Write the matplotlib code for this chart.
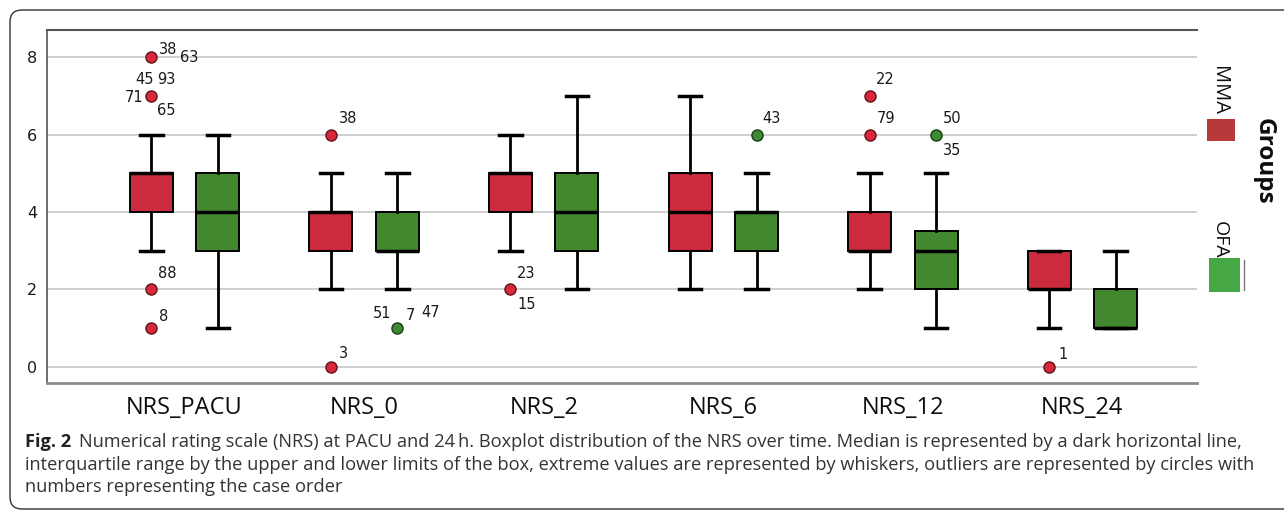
import matplotlib
matplotlib.use("Agg")
import matplotlib.pyplot as plt
from matplotlib.patches import FancyBboxPatch, Rectangle

categories = ['NRS_PACU', 'NRS_0', 'NRS_2', 'NRS_6', 'NRS_12', 'NRS_24']

# box statistics (MMA = red, OFA = green)
mma_whislo = [3, 2, 3, 2, 2, 1]
mma_q1 = [4, 3, 4, 3, 3, 2]
mma_med = [5, 4, 5, 4, 3, 2]
mma_q3 = [5, 4, 5, 5, 4, 3]
mma_whishi = [6, 5, 6, 7, 5, 3]

ofa_whislo = [1, 2, 2, 2, 1, 1]
ofa_q1 = [3, 3, 3, 3, 2, 1]
ofa_med = [4, 3, 4, 4, 3, 1]
ofa_q3 = [5, 4, 5, 4, 3.5, 2]
ofa_whishi = [6, 5, 7, 5, 5, 3]

# outliers: category index, group, value, case numbers
out_cat = [0, 0, 0, 0, 1, 1, 1, 2, 3, 4, 4, 4, 5]
out_grp = ['MMA', 'MMA', 'MMA', 'MMA', 'MMA', 'MMA', 'OFA', 'MMA', 'OFA', 'MMA', 'MMA', 'OFA', 'MMA']
out_val = [8, 7, 2, 1, 6, 0, 1, 2, 6, 7, 6, 6, 0]
out_ids = [['38', '63'], ['45', '93', '71', '65'], ['88'], ['8'], ['38'], ['3'],
           ['51', '7', '47'], ['23', '15'], ['43'], ['22'], ['79'], ['50', '35'], ['1']]

# where each case number sits around its circle (pixels)
id_offsets = [[(17, 8), (38, 0)], [(-7, 16), (15, 16), (-17, -2), (15, -15)], [(16, 16)], [(12, 12)],
              [(17, 16)], [(13, 13)], [(-15, 15), (13, 13), (33, 16)], [(16, 16), (16, -15)],
              [(15, 16)], [(16, 16)], [(16, 16)], [(16, 16), (16, -16)], [(14, 12)]]

caption_lines = [
    'Numerical rating scale (NRS) at PACU and 24\u2009h. Boxplot distribution of the NRS over time. '
    'Median is represented by a dark horizontal line,',
    'interquartile range by the upper and lower limits of the box, extreme values are represented by '
    'whiskers, outliers are represented by circles with',
    'numbers representing the case order',
]

RED = '#cc2a3d'
GREEN = '#43872f'
colors = {'MMA': RED, 'OFA': GREEN}
pt_colors = {'MMA': ('#d9283e', '#5e1515'), 'OFA': ('#3d8c33', '#1c3a15')}
offset = 0.185
W, H = 1284, 513
cap_size = 13.15

fig = plt.figure(figsize=(W / 100, H / 100), dpi=100)
ax = fig.add_axes([47 / W, (H - 383) / H, (1197 - 47) / W, (383 - 30) / H], zorder=2)
ax.patch.set_alpha(0)


def make_stats(lo, q1, med, q3, hi):
    return [dict(whislo=a, q1=b, med=c, q3=d, whishi=e, fliers=[]) for a, b, c, d, e in zip(lo, q1, med, q3, hi)]


groups = {
    'MMA': make_stats(mma_whislo, mma_q1, mma_med, mma_q3, mma_whishi),
    'OFA': make_stats(ofa_whislo, ofa_q1, ofa_med, ofa_q3, ofa_whishi),
}
shift = {'MMA': -offset, 'OFA': offset}

for name, stats in groups.items():
    pos = [i + shift[name] for i in range(len(categories))]
    ax.bxp(stats, positions=pos, widths=0.24, capwidths=0.125, patch_artist=True, showfliers=False,
           boxprops=dict(facecolor=colors[name], edgecolor='black', linewidth=1.4),
           medianprops=dict(color='black', linewidth=2.5),
           whiskerprops=dict(color='black', linewidth=2),
           capprops=dict(color='black', linewidth=2.5),
           manage_ticks=False, zorder=3)

for c, g, v, ids, offs in zip(out_cat, out_grp, out_val, out_ids, id_offsets):
    x = c + shift[g]
    face, edge = pt_colors[g]
    ax.plot(x, v, 'o', ms=8, mfc=face, mec=edge, mew=1, zorder=4)
    for lab, (dx, dy) in zip(ids, offs):
        ax.annotate(lab, xy=(x, v), xytext=(dx, dy), textcoords='offset pixels',
                    ha='center', va='center', fontsize=10.5, color='#1a1a1a', zorder=5)

ax.set_xlim(-0.766, 5.638)
ax.set_ylim(-0.413, 8.697)
ax.set_yticks([0, 2, 4, 6, 8])
ax.set_xticks(range(len(categories)))
ax.set_xticklabels(categories, fontfamily='Open Sans', fontsize=17, color='#0d0d0d')
ax.tick_params(axis='x', length=0, pad=9)
ax.tick_params(axis='y', length=0, pad=7, labelsize=11.5, labelcolor='#1a1a1a')
ax.yaxis.grid(True, color='#c8c8c8', linewidth=1.2)
ax.set_axisbelow(True)
ax.spines['right'].set_visible(False)
ax.spines['top'].set_color('#555555')
ax.spines['top'].set_linewidth(1.5)
ax.spines['bottom'].set_color('#8c8c8c')
ax.spines['bottom'].set_linewidth(2)
ax.spines['left'].set_color('#555555')
ax.spines['left'].set_linewidth(1.2)

# overlay in pixel coordinates for the frame, legend and caption
bg = fig.add_axes([0, 0, 1, 1], zorder=1)
bg.set_xlim(0, W)
bg.set_ylim(H, 0)
bg.axis('off')
bg.add_patch(FancyBboxPatch((10, 10), W + 40, 499, boxstyle='round,pad=0,rounding_size=12',
                            facecolor='none', edgecolor='#333333', linewidth=1))

bg.text(1219, 91, 'MMA', rotation=-90, ha='center', va='center', fontsize=14.5,
        fontfamily='Open Sans', color='#0d0d0d')
bg.add_patch(Rectangle((1207, 119), 28, 22, facecolor='#b8393a', edgecolor='none'))
bg.text(1220, 240, 'OFA', rotation=-90, ha='center', va='center', fontsize=14,
        fontfamily='Open Sans', color='#0d0d0d')
bg.add_patch(Rectangle((1209, 258), 31, 34, facecolor='#45a845', edgecolor='none'))
bg.plot([1244, 1244], [260, 290], color='#777777', lw=1)
bg.text(1264, 161, 'Groups', rotation=-90, ha='center', va='center', fontsize=17.5,
        fontweight='bold', fontfamily='Open Sans', color='#0d0d0d')

fig_lab = bg.text(25, 442, 'Fig. 2', ha='left', va='center', fontsize=cap_size, fontweight='bold',
                  fontfamily='Open Sans', color='#222222')
bg.annotate(caption_lines[0], xy=(1, 0.5), xycoords=fig_lab, xytext=(8, 0), textcoords='offset pixels',
            ha='left', va='center', fontsize=cap_size, fontfamily='Open Sans', color='#333333')
bg.text(25, 465, caption_lines[1], ha='left', va='center', fontsize=cap_size, fontfamily='Open Sans',
        color='#333333')
bg.text(25, 487, caption_lines[2], ha='left', va='center', fontsize=cap_size, fontfamily='Open Sans',
        color='#333333')

fig.savefig('out.png', dpi=100)
